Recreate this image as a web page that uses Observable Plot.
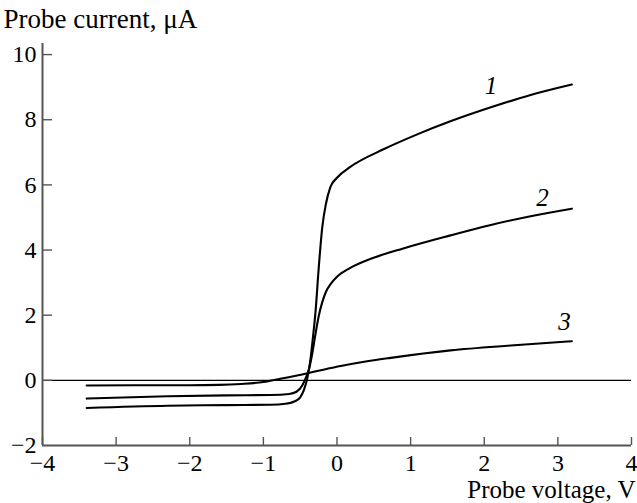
<!DOCTYPE html>
<html>
<head>
<meta charset="utf-8">
<script src="https://cdn.jsdelivr.net/npm/d3@7"></script>
<script src="https://cdn.jsdelivr.net/npm/@observablehq/plot@0.6"></script>
<style>
  html, body { margin: 0; padding: 0; background: #fff; }
  #chart svg { display: block; }
</style>
</head>
<body>
<div id="chart"></div>
<script>
// Probe current–voltage characteristics, curves 1–3
const xTicks = [-4, -3, -2, -1, 0, 1, 2, 3, 4];
const yTicks = [-2, 0, 2, 4, 6, 8, 10];

const curve1X = [-3.4, -2.3, -1.5, -0.9, -0.7, -0.58, -0.5, -0.45, -0.40, -0.36, -0.33, -0.29, -0.25, -0.20, -0.15, -0.09, 0.0, 0.18, 0.64, 1.09, 1.54, 2.09, 2.63, 3.19];
const curve1Y = [-0.85, -0.78, -0.76, -0.75, -0.72, -0.65, -0.52, -0.3, 0.1, 0.65, 1.25, 2.15, 3.4, 4.7, 5.42, 5.93, 6.22, 6.55, 7.1, 7.55, 7.95, 8.38, 8.76, 9.08];

const curve2X = [-3.4, -2.3, -1.5, -0.9, -0.65, -0.55, -0.47, -0.42, -0.38, -0.33, -0.29, -0.25, -0.20, -0.15, -0.08, 0.0, 0.18, 0.46, 0.9, 1.54, 2.09, 2.63, 3.19];
const curve2Y = [-0.56, -0.49, -0.46, -0.45, -0.42, -0.35, -0.15, 0.1, 0.35, 0.9, 1.45, 1.95, 2.4, 2.72, 2.98, 3.18, 3.45, 3.73, 4.05, 4.45, 4.77, 5.04, 5.27];

const curve3X = [-3.4, -2.5, -2.0, -1.6, -1.3, -1.0, -0.77, -0.4, -0.22, 0.05, 0.37, 0.73, 1.54, 2.36, 3.19];
const curve3Y = [-0.16, -0.15, -0.15, -0.14, -0.11, -0.05, 0.05, 0.22, 0.31, 0.44, 0.57, 0.69, 0.92, 1.07, 1.2];

const curveNames = ["1", "2", "3"];
const labelX = [2.09, 2.79, 3.09];
const labelY = [9.05, 5.6, 1.79];

const series = [
  {name: "1", xs: curve1X, ys: curve1Y},
  {name: "2", xs: curve2X, ys: curve2Y},
  {name: "3", xs: curve3X, ys: curve3Y}
];
const rows = series.flatMap(s => s.xs.map((x, i) => ({curve: s.name, x, y: s.ys[i]})));
const labels = curveNames.map((n, i) => ({name: n, x: labelX[i], y: labelY[i]}));

const font = "'Liberation Serif', 'Times New Roman', serif";
const axisColor = "#555";

const chart = Plot.plot({
  width: 637,
  height: 503,
  marginLeft: 42,
  marginRight: 6,
  marginTop: 43,
  marginBottom: 58,
  style: {fontFamily: font, fontSize: "24px", background: "#fff", color: "#000"},
  x: {domain: [-4, 4]},
  y: {domain: [-2, 10.34]},
  marks: [
    // zero line
    Plot.ruleY([0], {stroke: "#000", strokeWidth: 1.3}),
    // axis lines
    Plot.ruleX([-4], {stroke: axisColor, strokeWidth: 2}),
    Plot.ruleY([-2], {stroke: axisColor, strokeWidth: 2}),
    // inward ticks
    Plot.axisX(xTicks, {tickSize: -8, text: null, stroke: axisColor, strokeWidth: 1.4, label: null}),
    Plot.axisY(yTicks.filter(d => d !== -2), {tickSize: -10, text: null, stroke: axisColor, strokeWidth: 1.4, label: null}),
    // tick labels
    Plot.axisX(xTicks, {tickSize: 0, tickPadding: 8, fontSize: 24, fill: "#000", label: null}),
    Plot.axisY(yTicks, {tickSize: 0, tickPadding: 6, fontSize: 24, fill: "#000", label: null}),
    // curves
    Plot.line(rows, {x: "x", y: "y", z: "curve", curve: "monotone-x", stroke: "#000", strokeWidth: 2.1}),
    Plot.text(labels, {x: "x", y: "y", text: "name", fontStyle: "italic", fontSize: 25, fill: "#000"}),
    // axis titles
    Plot.text(["Probe current, μA"], {frameAnchor: "top-left", lineAnchor: "middle", dx: -39, dy: -24, textAnchor: "start", fontSize: 27, fill: "#000"}),
    Plot.text(["Probe voltage, V"], {frameAnchor: "bottom-right", lineAnchor: "middle", dx: 4, dy: 44, textAnchor: "end", fontSize: 25, fill: "#000"})
  ]
});
document.getElementById("chart").appendChild(chart);
</script>
</body>
</html>
